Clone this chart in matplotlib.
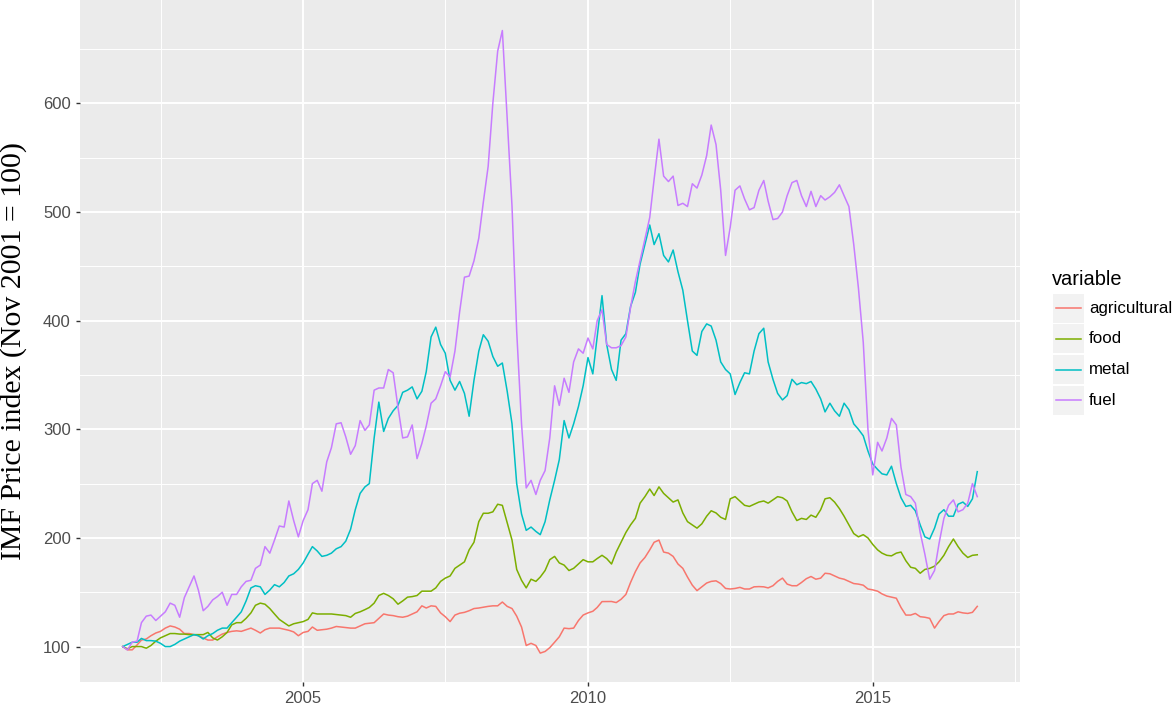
import pandas as pd
import matplotlib
matplotlib.use('Agg')
import matplotlib.pyplot as plt
from matplotlib.patches import Rectangle
from matplotlib.lines import Line2D

plt.rcParams['font.family'] = ['Liberation Sans', 'DejaVu Sans']

# monthly index values, Nov 2001 .. Nov 2016 (Nov 2001 = 100)
start_month = '2001-11-01'

agricultural = [
    100, 97,
    97, 101.5, 106, 107, 110, 112.5, 114, 117, 119, 118, 116, 112,
    112, 111, 110, 108, 106, 106, 109, 111.5, 113, 114, 114.5, 114,
    115.5, 117, 115, 112.5, 115.5, 117, 117, 117, 116, 115, 113.5, 110,
    113, 114, 118, 115, 115.5, 116, 117, 118.5, 118, 117.5, 117, 117,
    119, 121, 121.5, 122, 126, 130, 129, 128.5, 127.5, 127, 128, 130,
    132, 137.5, 135.5, 137.5, 137, 131, 127.5, 123, 129, 130.7, 131.5, 133,
    135, 135.5, 136.2, 137, 137.5, 137.5, 141, 137, 135, 128, 118, 101,
    103, 101, 94, 95.5, 99, 104, 109, 117, 116.5, 117, 124, 129,
    131, 132.5, 136, 141.4, 141.4, 141.5, 140.5, 143.5, 148, 159, 169, 177,
    182, 189, 196, 198, 187, 186, 183, 176, 172, 164, 156.5, 151.5,
    155, 158.5, 160, 160.5, 158, 153.5, 153, 153.5, 154.5, 153, 153, 155,
    155.2, 155, 154, 156, 160, 163, 157.5, 156, 156, 159, 162.5, 164.5,
    162, 163, 167.5, 167, 165, 163, 162, 160, 158, 157.5, 156.5, 153,
    152.2, 151, 148.5, 146.5, 145.5, 144.5, 136, 129, 129, 130.5, 127.5, 127,
    126, 117, 123, 128.5, 130, 130, 132, 131, 130.5, 131.5, 137,
]

food = [
    100, 98,
    100, 100, 100, 98.5, 101, 105, 108, 110, 112, 112, 111.5, 111.5,
    111, 111, 111, 111, 113, 108, 106, 109, 113, 120, 122, 122,
    126, 131, 138, 140, 139, 135, 130, 125, 122, 119, 121, 122,
    123, 125, 131, 130, 130, 130, 130, 129.5, 129, 128.5, 127, 130.5,
    132, 134, 136, 140, 147, 149, 147, 144, 139, 142, 145.5, 146,
    147, 151, 151, 151, 154, 160, 163, 165, 172, 175, 178, 189,
    196, 215, 222.7, 222.7, 224, 231, 230, 214, 198, 171, 161, 154,
    162, 160, 164, 170, 180, 183, 177, 175, 170, 172, 176, 180,
    178, 178, 181, 184, 181, 176, 187, 196, 205, 212, 218, 232,
    238, 245, 239, 247, 241, 237, 233, 235, 223, 215, 212, 209,
    213, 220, 225, 223, 219, 217, 236, 238, 234, 230, 229, 231,
    233, 234, 232, 235, 238, 237, 234, 224, 216, 218, 217, 221,
    219, 226, 236, 237, 233, 227, 220, 212, 204, 201, 203, 200,
    194, 189, 186, 184, 183.5, 186, 187, 179, 173, 172, 167.5, 171,
    172, 174, 178, 184, 192, 199, 192, 186, 182, 184, 184.5,
]

metal = [
    100, 102,
    104, 104, 107.5, 105.5, 105.5, 105, 103, 100, 100, 102, 105, 107,
    109, 111, 110, 107, 110, 112, 115, 117, 117, 122, 127, 132,
    142, 154, 156, 155, 148, 152, 157, 155, 159, 165, 167, 171,
    177, 185, 192, 188, 183, 184, 186, 190, 192, 197, 208, 226,
    241, 247, 250, 292, 325, 298, 310, 317, 322, 334, 336, 339,
    328, 335, 353, 385, 394, 378, 370, 345, 336, 344, 333, 312,
    345, 372, 387, 381, 367, 358, 361, 335, 305, 250, 222, 207,
    210, 206, 203, 215, 235, 253, 272, 308, 292, 305, 321, 340,
    366, 351, 385, 423, 378, 355, 345, 382, 388, 413, 426, 452,
    470, 488, 470, 480, 460, 454, 465, 445, 428, 400, 372, 368,
    390, 397, 395, 382, 362, 355, 351, 332, 343, 352, 351, 372,
    388, 393, 362, 346, 333, 327, 331, 346, 341, 343, 342, 344,
    337, 328, 316, 324, 317, 312, 324, 318, 305, 300, 294, 280,
    268, 263, 259, 258, 266, 250, 237, 229, 230, 225, 212, 201,
    199, 209, 222, 226, 220, 220, 231, 233, 229, 236, 261,
]

fuel = [
    100, 97,
    104, 105, 122, 128, 129, 124, 128, 132, 140, 138, 127, 145,
    155, 165, 152, 133, 137, 143, 146, 150, 138, 148, 148, 155,
    160, 161, 172, 175, 192, 186, 198, 211, 210, 234, 216, 201,
    216, 226, 250, 253, 243, 270, 283, 305, 306, 293, 277, 285,
    308, 299, 304, 336, 338, 338, 355, 352, 320, 292, 293, 304,
    273, 287, 303, 324, 328, 340, 353, 348, 372, 408, 440, 441,
    455, 476, 509, 542, 600, 648, 667, 586, 505, 390, 305, 246,
    253, 240, 253, 262, 292, 340, 322, 347, 334, 362, 374, 370,
    384, 374, 400, 410, 378, 375, 375, 377, 385, 412, 436, 455,
    475, 495, 530, 567, 533, 528, 533, 506, 508, 505, 526, 522,
    534, 552, 580, 562, 520, 460, 486, 520, 524, 512, 502, 504,
    520, 529, 510, 493, 494, 500, 515, 527, 529, 515, 505, 519,
    505, 515, 511, 514, 518, 525, 515, 505, 470, 430, 380, 300,
    258, 288, 280, 292, 310, 304, 265, 240, 238, 232, 205, 185,
    162, 170, 195, 218, 230, 235, 224, 226, 232, 250, 238,
]

names = ['agricultural', 'food', 'metal', 'fuel']
series = [agricultural, food, metal, fuel]
colors = ['#F8766D', '#7CAE00', '#00BFC4', '#C77CFF']

dates = pd.date_range(start_month, periods=len(fuel), freq='MS')

W, H = 1173, 711
fig = plt.figure(figsize=(W / 100, H / 100), dpi=100)
ax = fig.add_axes([80 / W, 1 - 682 / H, 940 / W, 682 / H])
ax.set_facecolor('#EBEBEB')
for s in ax.spines.values():
    s.set_visible(False)

for vals, c in zip(series, colors):
    ax.plot(dates, vals, color=c, lw=1.1)

span = dates[-1] - dates[0]
ax.set_xlim(dates[0] - span * 0.05, dates[-1] + span * 0.05)
ax.set_ylim(67.4, 695.1)

ax.set_xticks([pd.Timestamp(f'{y}-01-01') for y in (2005, 2010, 2015)])
ax.set_xticklabels(['2005', '2010', '2015'])
ax.set_xticks([pd.Timestamp(f'{y}-07-02') for y in (2002, 2007, 2012, 2017)], minor=True)
ax.set_yticks([100, 200, 300, 400, 500, 600])
ax.set_yticks([150, 250, 350, 450, 550, 650], minor=True)

ax.set_axisbelow(True)
ax.grid(which='major', color='white', lw=1.4)
ax.grid(which='minor', color='white', lw=0.7)
ax.tick_params(which='major', length=3.2, width=1, color='#333333',
               labelsize=12, labelcolor='#4D4D4D', pad=3.5)
ax.tick_params(which='minor', length=0)

fig.text(14 / W, 1 - 351 / H, 'IMF Price index (Nov 2001 = 100)', rotation=90,
         ha='center', va='center', family='Liberation Serif', fontsize=21.5)

# legend, ggplot style
def fx(x):
    return x / W

def fy(y):
    return 1 - y / H

fig.text(fx(1052), fy(280), 'variable', fontsize=14.4, ha='left', va='center')
for k, (name, c) in enumerate(zip(names, colors)):
    yc = 308 + k * 30.8
    fig.add_artist(Rectangle((fx(1053), fy(yc + 14.5)), 31 / W, 29 / H,
                             transform=fig.transFigure, facecolor='#F2F2F2',
                             edgecolor='none'))
    fig.add_artist(Line2D([fx(1056), fx(1081)], [fy(yc), fy(yc)],
                          transform=fig.transFigure, color=c, lw=1.1))
    fig.text(fx(1089), fy(yc), name, fontsize=12.2, ha='left', va='center')

fig.savefig('out.png', dpi=100)
